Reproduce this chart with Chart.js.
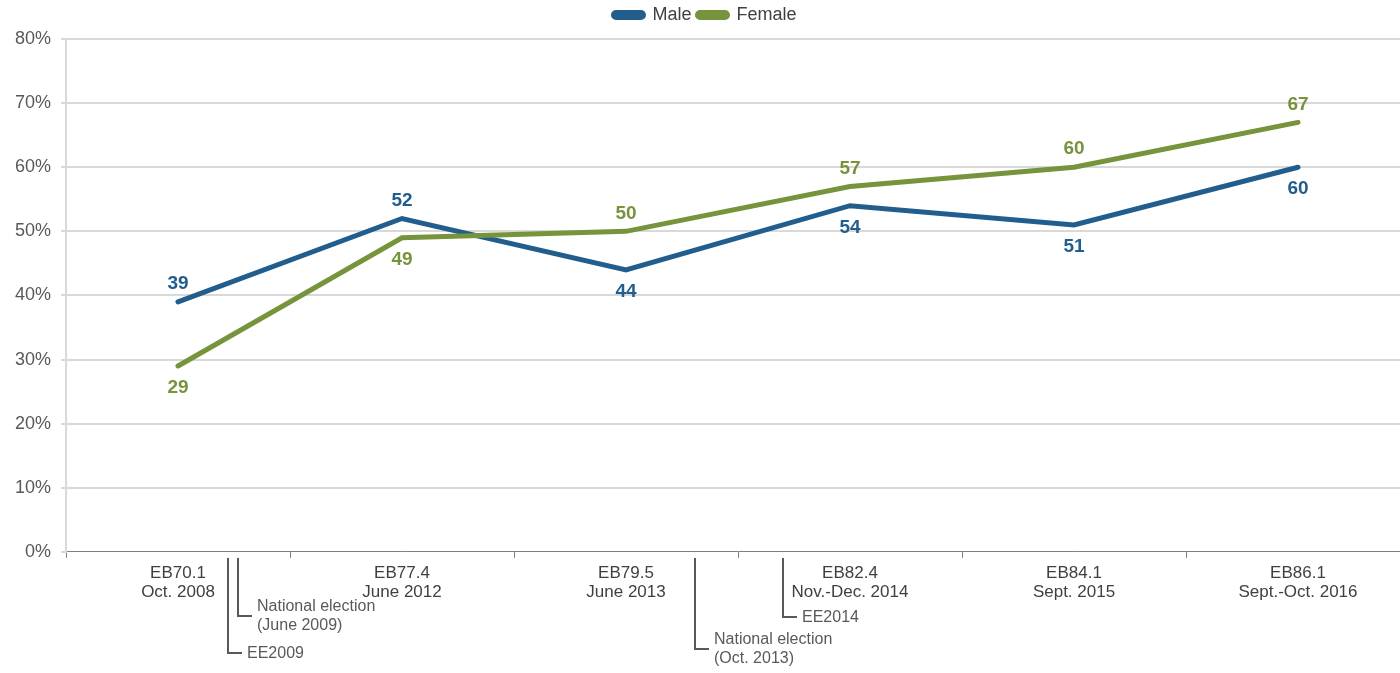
<!DOCTYPE html>
<html>
<head>
<meta charset="utf-8">
<script src="https://cdn.jsdelivr.net/npm/chart.js@4.4.1/dist/chart.umd.min.js"></script>
<style>
  html, body { margin: 0; padding: 0; background: #fff; overflow: hidden; }
  #wrap { width: 1434px; height: 673px; }
</style>
</head>
<body>
<div id="wrap"><canvas id="chart" width="1434" height="673"></canvas></div>
<script>
// survey waves (two line labels)
var waves = [
    ['EB70.1', 'Oct. 2008'],
    ['EB77.4', 'June 2012'],
    ['EB79.5', 'June 2013'],
    ['EB82.4', 'Nov.-Dec. 2014'],
    ['EB84.1', 'Sept. 2015'],
    ['EB86.1', 'Sept.-Oct. 2016']
];
var maleValues = [39, 52, 44, 54, 51, 60];
var femaleValues = [29, 49, 50, 57, 60, 67];
// where the value label sits: 1 = above the line, -1 = below
var maleLabelSide = [1, 1, -1, -1, -1, -1];
var femaleLabelSide = [-1, -1, 1, 1, 1, 1];
var yTicks = [0, 10, 20, 30, 40, 50, 60, 70, 80];

// events between waves (position in category units)
var events = [
    { at: 0.223, text: ['EE2009'], drop: 101 },
    { at: 0.268, text: ['National election', '(June 2009)'], drop: 64 },
    { at: 2.31, text: ['National election', '(Oct. 2013)'], drop: 97 },
    { at: 2.70, text: ['EE2014'], drop: 65 }
];

var FONT = "'Liberation Sans', Arial, sans-serif";
var maleColor = '#215d8d';
var femaleColor = '#77933c';

// value labels next to each point
var valueLabels = {
    id: 'valueLabels',
    afterDatasetsDraw: function(chart) {
        var ctx = chart.ctx;
        var sides = [maleLabelSide, femaleLabelSide];
        ctx.save();
        ctx.font = 'bold 19px ' + FONT;
        ctx.textAlign = 'center';
        ctx.textBaseline = 'middle';
        chart.data.datasets.forEach(function(ds, i) {
            var meta = chart.getDatasetMeta(i);
            ctx.fillStyle = ds.borderColor;
            meta.data.forEach(function(pt, j) {
                var dy = sides[i][j] > 0 ? -18 : 22;
                ctx.fillText(String(ds.data[j]), pt.x, pt.y + dy);
            });
        });
        ctx.restore();
    }
};

// election markers below the x axis
var eventMarks = {
    id: 'eventMarks',
    afterDraw: function(chart) {
        var ctx = chart.ctx;
        var xs = chart.scales.x;
        var base = chart.chartArea.bottom;
        ctx.save();
        ctx.strokeStyle = '#595959';
        ctx.lineWidth = 2;
        ctx.fillStyle = '#595959';
        ctx.font = '16px ' + FONT;
        ctx.textAlign = 'left';
        ctx.textBaseline = 'middle';
        events.forEach(function(ev) {
            var i = Math.floor(ev.at);
            var f = ev.at - i;
            var x = xs.getPixelForValue(i) * (1 - f) + xs.getPixelForValue(i + 1) * f;
            x = Math.round(x);
            var yEnd = base + ev.drop;
            ctx.beginPath();
            ctx.moveTo(x, base + 6);
            ctx.lineTo(x, yEnd);
            ctx.lineTo(x + 14, yEnd);
            ctx.stroke();
            if (ev.text.length === 1) {
                ctx.fillText(ev.text[0], x + 19, yEnd + 1);
            } else {
                ctx.fillText(ev.text[0], x + 19, yEnd - 9);
                ctx.fillText(ev.text[1], x + 19, yEnd + 10);
            }
        });
        ctx.restore();
    }
};

var ctx = document.getElementById('chart').getContext('2d');
var chart = new Chart(ctx, {
    type: 'line',
    data: {
        labels: waves,
        datasets: [
            {
                label: 'Male',
                data: maleValues,
                borderColor: maleColor,
                backgroundColor: maleColor,
                borderWidth: 5,
                pointRadius: 0,
                tension: 0,
                borderCapStyle: 'round',
                fill: false,
                order: 1
            },
            {
                label: 'Female',
                data: femaleValues,
                borderColor: femaleColor,
                backgroundColor: femaleColor,
                borderWidth: 5,
                pointRadius: 0,
                tension: 0,
                borderCapStyle: 'round',
                fill: false,
                order: 0
            }
        ]
    },
    options: {
        responsive: false,
        animation: false,
        devicePixelRatio: 1,
        layout: { padding: { left: 0, right: 24, top: 0, bottom: 65 } },
        plugins: {
            tooltip: { enabled: false },
            // empty spacer between legend and plot
            title: {
                display: true,
                text: '',
                weight: 500,
                padding: 0,
                font: { size: 5, lineHeight: 1 }
            },
            legend: {
                display: true,
                position: 'top',
                labels: {
                    sort: function(a, b) { return a.datasetIndex - b.datasetIndex; },
                    boxWidth: 30,
                    boxHeight: 5,
                    padding: 6,
                    useBorderRadius: true,
                    borderRadius: 2.5,
                    color: '#404040',
                    font: { family: FONT, size: 18 }
                }
            }
        },
        scales: {
            x: {
                type: 'category',
                offset: true,
                grid: {
                    offset: true,
                    drawOnChartArea: false,
                    drawTicks: true,
                    tickLength: 6,
                    color: '#7f7f7f',
                    lineWidth: 1
                },
                border: { display: true, color: '#7f7f7f', width: 1 },
                ticks: {
                    color: '#404040',
                    padding: 6,
                    maxRotation: 0,
                    autoSkip: false,
                    font: { family: FONT, size: 17, lineHeight: 1.12 }
                }
            },
            y: {
                min: 0,
                max: 80,
                afterFit: function(scale) { scale.width = 66; },
                afterBuildTicks: function(scale) {
                    scale.ticks = yTicks.map(function(v) { return { value: v }; });
                },
                grid: {
                    color: function(c) { return c.tick && c.tick.value === 0 ? 'rgba(0,0,0,0)' : '#d9d9d9'; },
                    tickColor: '#d9d9d9',
                    lineWidth: 2,
                    tickLength: 5
                },
                border: { display: true, color: '#d9d9d9', width: 2 },
                ticks: {
                    color: '#595959',
                    padding: 10,
                    font: { family: FONT, size: 18 },
                    callback: function(v) { return v + '%'; }
                }
            }
        }
    },
    plugins: [valueLabels, eventMarks]
});
</script>
</body>
</html>
